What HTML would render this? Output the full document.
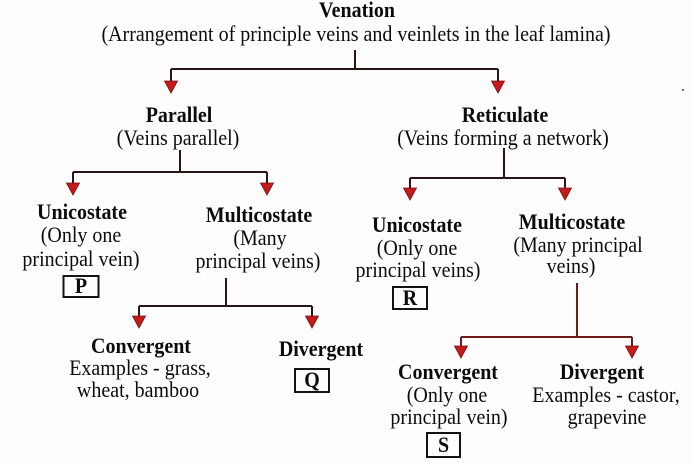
<!DOCTYPE html>
<html>
<head>
<meta charset="utf-8">
<style>
  html, body { margin:0; padding:0; background:#fdfdfd; }
  body { width:692px; height:463px; overflow:hidden; }
  svg { display:block; }
  text { font-family: "Liberation Serif", "DejaVu Serif", serif; font-size:20px; fill:#0c0c0c; text-anchor:middle; }
  .b { font-weight:bold; }
</style>
</head>
<body>
<svg width="692" height="463" viewBox="0 0 692 463" xmlns="http://www.w3.org/2000/svg">
  <rect x="0" y="0" width="692" height="463" fill="#fdfdfd"/>

  <!-- Level 0 -->
  <text class="b" transform="translate(357,17) scale(1,1.1)">Venation</text>
  <text transform="translate(356,41) scale(1,1.1)">(Arrangement of principle veins and veinlets in the leaf lamina)</text>

  <!-- connectors level 1 -->
  <g stroke="#2a1414" stroke-width="2" fill="none">
    <line x1="355" y1="50" x2="355" y2="69"/>
    <line x1="171" y1="69" x2="498" y2="69"/>
    <line x1="171" y1="69" x2="171" y2="82"/>
    <line x1="498" y1="69" x2="498" y2="82"/>
  </g>
  <g fill="#c41a1a" stroke="#7a1010" stroke-width="0.8">
    <polygon points="164.5,81 177.5,81 171,93"/>
    <polygon points="491.5,81 504.5,81 498,93"/>
  </g>

  <!-- Level 1 -->
  <text class="b" transform="translate(179,122) scale(1,1.1)">Parallel</text>
  <text transform="translate(178,145) scale(1,1.1)">(Veins parallel)</text>
  <text class="b" transform="translate(505,122) scale(1,1.1)">Reticulate</text>
  <text transform="translate(503,145) scale(1,1.1)">(Veins forming a network)</text>

  <!-- connectors level 2 left -->
  <g stroke="#2a1414" stroke-width="2" fill="none">
    <line x1="180" y1="150" x2="180" y2="172"/>
    <line x1="73" y1="172" x2="267" y2="172"/>
    <line x1="73" y1="172" x2="73" y2="184"/>
    <line x1="267" y1="172" x2="267" y2="184"/>
  </g>
  <g fill="#c41a1a" stroke="#7a1010" stroke-width="0.8">
    <polygon points="66.5,183 79.5,183 73,195"/>
    <polygon points="260.5,183 273.5,183 267,195"/>
  </g>

  <!-- connectors level 2 right -->
  <g stroke="#2a1414" stroke-width="2" fill="none">
    <line x1="504" y1="148" x2="504" y2="178"/>
    <line x1="410" y1="178" x2="565" y2="178"/>
    <line x1="410" y1="178" x2="410" y2="189"/>
    <line x1="565" y1="178" x2="565" y2="189"/>
  </g>
  <g fill="#c41a1a" stroke="#7a1010" stroke-width="0.8">
    <polygon points="403.5,188 416.5,188 410,200"/>
    <polygon points="558.5,188 571.5,188 565,200"/>
  </g>

  <!-- Level 2 left -->
  <text class="b" transform="translate(82,219) scale(1,1.1)">Unicostate</text>
  <text transform="translate(81,242) scale(1,1.1)">(Only one</text>
  <text transform="translate(81,266) scale(1,1.1)">principal vein)</text>
  <rect x="63.5" y="276" width="35" height="21" fill="none" stroke="#141414" stroke-width="2"/>
  <text class="b" transform="translate(81,293) scale(1,1.1)">P</text>

  <text class="b" transform="translate(259,222) scale(1,1.1)">Multicostate</text>
  <text transform="translate(260,245) scale(1,1.1)">(Many</text>
  <text transform="translate(258,268) scale(1,1.1)">principal veins)</text>

  <!-- Level 2 right -->
  <text class="b" transform="translate(417,232) scale(1,1.1)">Unicostate</text>
  <text transform="translate(417,255) scale(1,1.1)">(Only one</text>
  <text transform="translate(418,277) scale(1,1.1)">principal veins)</text>
  <rect x="393" y="287" width="34" height="22" fill="none" stroke="#141414" stroke-width="2"/>
  <text class="b" transform="translate(410,305) scale(1,1.1)">R</text>

  <text class="b" transform="translate(572,229) scale(1,1.1)">Multicostate</text>
  <text transform="translate(578,252) scale(1,1.1)">(Many principal</text>
  <text transform="translate(571,273) scale(1,1.1)">veins)</text>

  <!-- connectors level 3 left -->
  <g stroke="#2a1414" stroke-width="2" fill="none">
    <line x1="226" y1="278" x2="226" y2="306"/>
    <line x1="139" y1="306" x2="312" y2="306"/>
    <line x1="139" y1="306" x2="139" y2="317"/>
    <line x1="312" y1="306" x2="312" y2="317"/>
  </g>
  <g fill="#c41a1a" stroke="#7a1010" stroke-width="0.8">
    <polygon points="132.5,316 145.5,316 139,328"/>
    <polygon points="305.5,316 318.5,316 312,328"/>
  </g>

  <!-- connectors level 3 right -->
  <g stroke="#6e1c1c" stroke-width="2" fill="none">
    <line x1="577" y1="283" x2="577" y2="337"/>
    <line x1="461" y1="337" x2="632" y2="337"/>
    <line x1="461" y1="337" x2="461" y2="347"/>
    <line x1="632" y1="337" x2="632" y2="347"/>
  </g>
  <g fill="#c41a1a" stroke="#7a1010" stroke-width="0.8">
    <polygon points="454.5,346 467.5,346 461,358"/>
    <polygon points="625.5,346 638.5,346 632,358"/>
  </g>

  <!-- Level 3 left -->
  <text class="b" transform="translate(141,353) scale(1,1.1)">Convergent</text>
  <text transform="translate(140,375) scale(1,1.1)">Examples - grass,</text>
  <text transform="translate(138,397) scale(1,1.1)">wheat, bamboo</text>

  <text class="b" transform="translate(321,356) scale(1,1.1)">Divergent</text>
  <rect x="295" y="369" width="34" height="23" fill="none" stroke="#141414" stroke-width="2"/>
  <text class="b" transform="translate(312,387) scale(1,1.1)">Q</text>

  <!-- Level 3 right -->
  <text class="b" transform="translate(448,379) scale(1,1.1)">Convergent</text>
  <text transform="translate(447,402) scale(1,1.1)">(Only one</text>
  <text transform="translate(449,424) scale(1,1.1)">principal vein)</text>
  <rect x="427" y="433" width="33" height="24" fill="none" stroke="#141414" stroke-width="2"/>
  <text class="b" transform="translate(443.5,452) scale(1,1.1)">S</text>

  <text class="b" transform="translate(602,379) scale(1,1.1)">Divergent</text>
  <text transform="translate(606,402) scale(1,1.1)">Examples - castor,</text>
  <text transform="translate(607,424) scale(1,1.1)">grapevine</text>

  <!-- small blue dot -->
  <circle cx="683" cy="90" r="1" fill="#2a3ab0"/>
</svg>
</body>
</html>
